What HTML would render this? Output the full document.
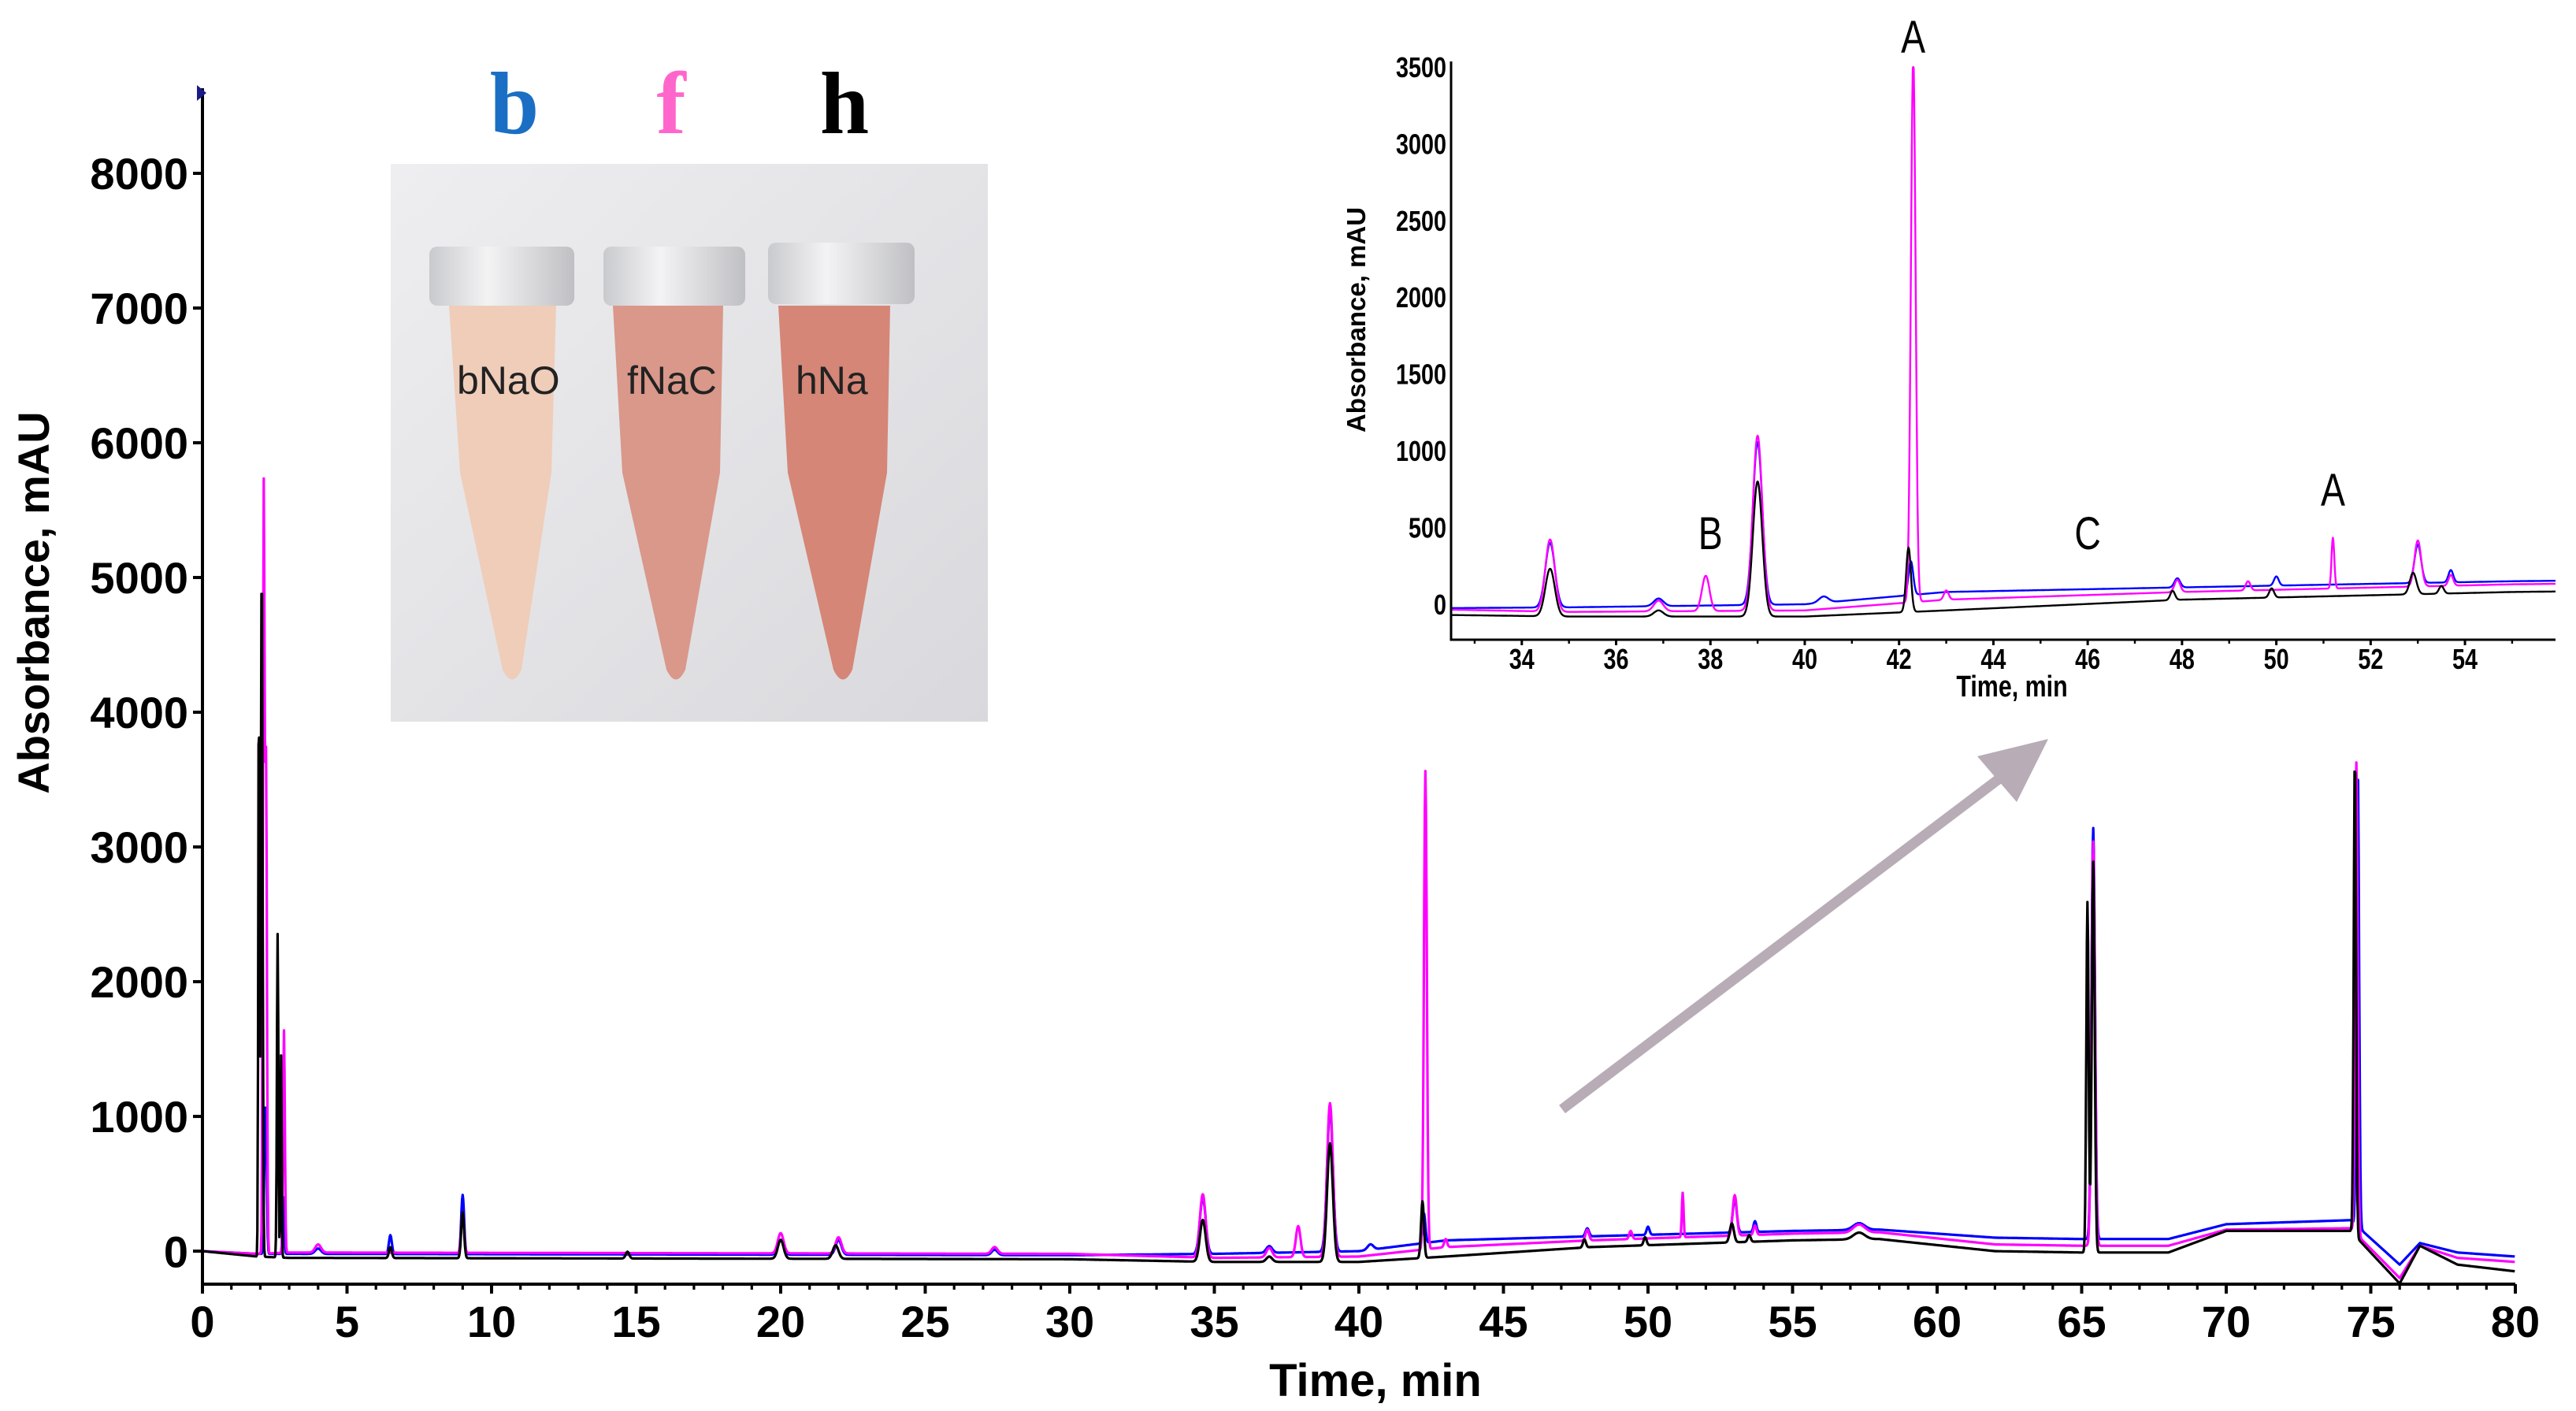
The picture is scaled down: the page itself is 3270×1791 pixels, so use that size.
<!DOCTYPE html>
<html><head><meta charset="utf-8">
<style>
html,body{margin:0;padding:0;background:#fff;}
body{width:3270px;height:1791px;overflow:hidden;position:relative;font-family:"Liberation Sans",Arial,sans-serif;}
svg{position:absolute;left:0;top:0;}
</style></head>
<body>
<svg id="chart" width="3270" height="1791" viewBox="0 0 3270 1791" xmlns="http://www.w3.org/2000/svg">
  <g id="photo">
    <defs>
      <linearGradient id="bg" x1="0" y1="0" x2="1" y2="1"><stop offset="0" stop-color="#eeeef0"/><stop offset="1" stop-color="#d9d9dd"/></linearGradient>
      <linearGradient id="capg" x1="0" y1="0" x2="1" y2="0"><stop offset="0" stop-color="#c9cacd"/><stop offset="0.4" stop-color="#f3f3f4"/><stop offset="1" stop-color="#bfc0c3"/></linearGradient>
    </defs>
    <rect x="496" y="208" width="758" height="708" fill="url(#bg)"/>
    <g>
      <path d="M570,388 L706,388 L700,600 L662,850 Q650,875 638,850 L584,600 Z" fill="#efcdb9"/>
      <rect x="545" y="313" width="184" height="75" rx="10" fill="url(#capg)"/>
    </g>
    <g>
      <path d="M778,388 L918,388 L914,600 L870,850 Q858,875 846,850 L790,600 Z" fill="#d9988a"/>
      <rect x="766" y="313" width="180" height="75" rx="10" fill="url(#capg)"/>
    </g>
    <g>
      <path d="M988,388 L1130,388 L1126,600 L1082,850 Q1070,875 1058,850 L1000,600 Z" fill="#d58676"/>
      <rect x="975" y="308" width="186" height="78" rx="10" fill="url(#capg)"/>
    </g>
    <text x="580" y="500" font-size="50" fill="#222" font-family="Liberation Sans, sans-serif">bNaO</text>
    <text x="796" y="500" font-size="50" fill="#222" font-family="Liberation Sans, sans-serif">fNaC</text>
    <text x="1010" y="500" font-size="50" fill="#222" font-family="Liberation Sans, sans-serif">hNa</text>
  </g>
  <text x="653" y="169" text-anchor="middle" font-family="Liberation Serif, serif" font-weight="bold" font-size="112" fill="#1a6fc4">b</text>
  <text x="852" y="169" text-anchor="middle" font-family="Liberation Serif, serif" font-weight="bold" font-size="112" fill="#ff66cc">f</text>
  <text x="1072" y="169" text-anchor="middle" font-family="Liberation Serif, serif" font-weight="bold" font-size="112" fill="#000">h</text>
  <g id="main"></g>
  <g id="inset"></g>
  <g>
    <line x1="1983" y1="1408" x2="2545" y2="983" stroke="#b8acb6" stroke-width="13"/>
    <polygon points="2600,938 2510,960 2560,1018" fill="#b8acb6"/>
  </g>
</svg>
<script>
// ---- data ----
const seriesNames = ['blue', 'magenta', 'black'];
const seriesColors = ['#0000ff', '#ff00ff', '#000000'];
// baseline breakpoints (min, mAU)
const blueBaseT = [0, 1.9, 3, 30, 35, 40, 43, 48, 55, 58, 62, 65, 68, 70, 74.3, 76, 76.7, 78, 80];
const blueBaseV = [0, -20, -20, -30, -20, 0, 80, 110, 150, 160, 100, 90, 90, 200, 230, -100, 60, -10, -40];
const magentaBaseT = [0, 1.9, 3, 30, 35, 40, 43, 48, 55, 58, 62, 65, 68, 70, 74.3, 76, 76.7, 78, 80];
const magentaBaseV = [0, -20, -10, -20, -50, -40, 30, 80, 130, 140, 50, 40, 40, 160, 170, -200, 40, -50, -80];
const blackBaseT = [0, 1.9, 3, 30, 35, 40, 43, 48, 55, 58, 62, 65, 68, 70, 74.3, 76, 76.7, 78, 80];
const blackBaseV = [0, -40, -50, -60, -80, -80, -40, 30, 80, 90, 0, -10, -10, 150, 150, -240, 40, -100, -150];
// peaks: retention time (min), height (mAU), width (min)
const bluePeakT = [2.15, 2.2, 2.8, 4.0, 6.5, 9.0, 20.0, 22.0, 27.4, 34.6, 36.9, 39.0, 40.4, 42.25, 47.9, 50.0, 53.0, 53.7, 57.3, 65.4, 74.55];
const bluePeakH = [600, 900, 420, 40, 140, 440, 110, 110, 40, 420, 50, 1060, 40, 220, 60, 60, 250, 80, 50, 3050, 3400];
const bluePeakW = [0.03, 0.03, 0.03, 0.1, 0.05, 0.05, 0.1, 0.1, 0.1, 0.1, 0.1, 0.1, 0.1, 0.05, 0.06, 0.05, 0.07, 0.05, 0.2, 0.06, 0.045];
const magentaPeakT = [2.12, 2.2, 2.82, 4.0, 9.0, 20.0, 22.0, 27.4, 34.6, 36.9, 37.9, 39.0, 42.3, 43.0, 47.9, 49.4, 51.2, 53.0, 53.7, 57.3, 65.4, 74.5];
const magentaPeakH = [5650, 3600, 1650, 60, 300, 150, 120, 50, 470, 70, 230, 1140, 3550, 60, 80, 60, 330, 300, 70, 60, 3000, 3500];
const magentaPeakW = [0.03, 0.03, 0.03, 0.1, 0.05, 0.1, 0.1, 0.1, 0.1, 0.1, 0.08, 0.1, 0.05, 0.05, 0.06, 0.05, 0.03, 0.07, 0.05, 0.2, 0.06, 0.045];
const blackPeakT = [1.95, 2.05, 2.6, 2.72, 6.5, 9.0, 14.7, 20.0, 21.9, 34.6, 36.9, 39.0, 42.2, 47.8, 49.9, 52.9, 53.5, 57.3, 65.2, 65.4, 74.45];
const blackPeakH = [4300, 5200, 2400, 1500, 80, 340, 50, 140, 100, 310, 40, 880, 420, 60, 60, 140, 50, 50, 2600, 2900, 3550];
const blackPeakW = [0.02, 0.03, 0.025, 0.02, 0.05, 0.05, 0.06, 0.1, 0.1, 0.1, 0.1, 0.1, 0.05, 0.05, 0.05, 0.07, 0.05, 0.2, 0.04, 0.05, 0.04];
const mainXTicks = [0, 5, 10, 15, 20, 25, 30, 35, 40, 45, 50, 55, 60, 65, 70, 75, 80];
const mainYTicks = [0, 1000, 2000, 3000, 4000, 5000, 6000, 7000, 8000];
const insetXTicks = [34, 36, 38, 40, 42, 44, 46, 48, 50, 52, 54];
const insetYTicks = [0, 500, 1000, 1500, 2000, 2500, 3000, 3500];
const insetLabels = ['A', 'B', 'C', 'A'];
const insetLabelT = [42.3, 38.0, 46.0, 51.2];
const insetLabelV = [3592, 359, 359, 642];

const NS = 'http://www.w3.org/2000/svg';
function mk(tag, attrs, parent){ const e=document.createElementNS(NS,tag); for(const k in attrs) e.setAttribute(k,attrs[k]); parent.appendChild(e); return e; }
function interp(ts, vs, t){ if(t<=ts[0]) return vs[0]; for(let i=1;i<ts.length;i++){ if(t<=ts[i]){ const f=(t-ts[i-1])/(ts[i]-ts[i-1]); return vs[i-1]+f*(vs[i]-vs[i-1]); } } return vs[vs.length-1]; }
const allData = {
  blue:[blueBaseT, blueBaseV, bluePeakT, bluePeakH, bluePeakW],
  magenta:[magentaBaseT, magentaBaseV, magentaPeakT, magentaPeakH, magentaPeakW],
  black:[blackBaseT, blackBaseV, blackPeakT, blackPeakH, blackPeakW]
};
function signal(name, t){
  const d = allData[name];
  let v = interp(d[0], d[1], t);
  for(let i=0;i<d[2].length;i++){ const z=(t-d[2][i])/d[4][i]; if(Math.abs(z)<6) v += d[3][i]*Math.exp(-0.5*z*z); }
  return v;
}
function drawChart(g, o){
  const sx = t => o.x0 + (t-o.tmin)*(o.x1-o.x0)/(o.tmax-o.tmin);
  const sy = v => o.y0 - (v-o.vmin)*(o.y0-o.y1)/(o.vmax-o.vmin);
  seriesNames.forEach((n, si) => {
    let d = '';
    for(let t=o.tmin; t<=o.tmax; t+=o.step){
      let v = Math.max(o.vmin, Math.min(o.vmax, signal(n, t)));
      d += (d?'L':'M') + sx(t).toFixed(1) + ',' + sy(v).toFixed(1);
    }
    const p = mk('path', {d:d, fill:'none', stroke:seriesColors[si], 'stroke-width':o.lw, 'stroke-linejoin':'round'}, g);
    
    
  });
  const ax = mk('path', {d:`M${o.x0},${o.ytop} L${o.x0},${o.y0} L${o.x1},${o.y0}`, fill:'none', stroke:'#000', 'stroke-width':o.aw}, g);
  
  
  o.xticks.forEach(t => {
    const tk = mk('line', {x1:sx(t), x2:sx(t), y1:o.y0, y2:o.y0+o.tl, stroke:'#000', 'stroke-width':o.aw}, g);
    
    
    const tx = mk('text', {x:sx(t), y:o.xly, 'text-anchor':'middle', 'font-size':o.fs, 'font-weight':'bold', transform:o.cond?`translate(${sx(t)},0) scale(${o.cond},1) translate(${-sx(t)},0)`:''}, g);
    tx.textContent = t;
    
    
  });
  if(o.minor){ for(let t=Math.ceil(o.tmin); t<o.tmax; t+=o.minor){ const m=mk('line',{x1:sx(t),x2:sx(t),y1:o.y0,y2:o.y0+o.mtl,stroke:'#000','stroke-width':o.aw*0.8},g);   } }
  o.yticks.forEach(v => {
    const tk = mk('line', {x1:o.x0-o.ytl, x2:o.x0, y1:sy(v), y2:sy(v), stroke:'#000', 'stroke-width':o.aw}, g);
    
    
    const lx = o.x0-o.ytl-6;
    const tx = mk('text', {x:lx, y:sy(v)+o.fs*0.36, 'text-anchor':'end', 'font-size':o.fs, 'font-weight':'bold', transform:o.cond?`translate(${lx},0) scale(${o.cond},1) translate(${-lx},0)`:''}, g);
    tx.textContent = v;
    
    
  });
  return {sx, sy};
}
const mainG = document.getElementById('main');
drawChart(mainG, {prefix:'main', x0:257, x1:3193, tmin:0, tmax:80, y0:1630, y1:220, vmin:-245, vmax:8000, ytop:112, step:0.02, lw:3.2, aw:4, tl:12, mtl:7, ytl:12, fs:56, xly:1697, xticks:mainXTicks, yticks:mainYTicks, minor:1});
let t1 = mk('text', {x:1746, y:1772, 'text-anchor':'middle', 'font-size':58, 'font-weight':'bold'}, mainG);
t1.textContent = 'Time, min';


let t2 = mk('text', {x:0, y:0, 'text-anchor':'middle', 'font-size':56, 'font-weight':'bold', transform:'translate(62,765) rotate(-90)'}, mainG);
t2.textContent = 'Absorbance, mAU';


mk('polygon', {points:'250,108 262,118 250,128', fill:'#1a1a8a'}, mainG);

const insetG = document.getElementById('inset');
const s = drawChart(insetG, {prefix:'inset', x0:1842, x1:3244, tmin:32.5, tmax:55.92, y0:812, y1:85, vmin:-231, vmax:3500, ytop:78, step:0.01, lw:2.4, aw:3, tl:7, mtl:5, ytl:0, fs:36, cond:0.8, xly:849, xticks:insetXTicks, yticks:insetYTicks, minor:1});
insetLabels.forEach((L, i) => {
  const x = s.sx(insetLabelT[i]);
  const tx = mk('text', {x:x, y:s.sy(insetLabelV[i]), 'text-anchor':'middle', 'font-size':58, 'font-weight':'normal', transform:`translate(${x},0) scale(0.8,1) translate(${-x},0)`}, insetG);
  tx.textContent = L;
  
  
});
let t3 = mk('text', {x:2554, y:884, 'text-anchor':'middle', 'font-size':38, 'font-weight':'bold', transform:'translate(2554,0) scale(0.8,1) translate(-2554,0)'}, insetG);
t3.textContent = 'Time, min';


let t4 = mk('text', {x:0, y:0, 'text-anchor':'middle', 'font-size':33, 'font-weight':'bold', transform:'translate(1733,406) rotate(-90)'}, insetG);
t4.textContent = 'Absorbance, mAU';


</script>
</body></html>
